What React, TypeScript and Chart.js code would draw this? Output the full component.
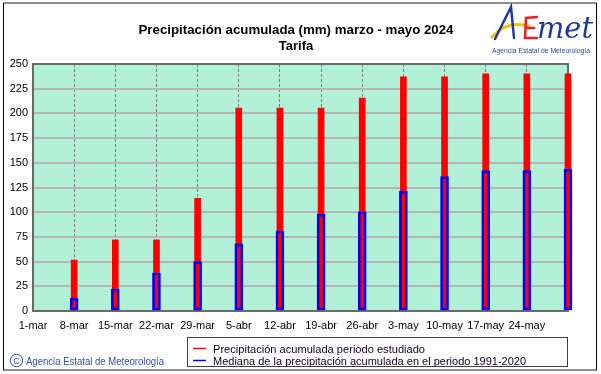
import React, { useEffect, useRef } from "react";
import { Chart, registerables } from "chart.js";

Chart.register(...registerables);

const TITLE = "Precipitación acumulada (mm) marzo - mayo 2024";
const SUBTITLE = "Tarifa";
const COPYRIGHT = "Agencia Estatal de Meteorología";
const LOGO_TEXT = "Agencia Estatal de Meteorología";

// x tick labels every 7 days starting 1-mar (day 0)
const tickLabels = [
  "1-mar", "8-mar", "15-mar", "22-mar", "29-mar", "5-abr", "12-abr",
  "19-abr", "26-abr", "3-may", "10-may", "17-may", "24-may",
];
// bar positions, in days since 1 March
const barDays = [7, 14, 21, 28, 35, 42, 49, 56, 63, 70, 77, 84, 91];
const seriesLabels = [
  "Precipitación acumulada periodo estudiado",
  "Mediana de la precipitación acumulada en el periodo 1991-2020",
];
const precipStudied = [51.5, 72, 72, 114, 205.5, 205.5, 205.5, 215.5, 237, 237, 240, 240, 240];
const precipMedian = [13, 22, 38.5, 50, 68, 81, 98, 100.5, 121, 136, 142, 142, 143.5];
const xMax = 91;
const xStep = 7;
const yMax = 250;
const yStep = 25;

const FONT = "Arial, 'Liberation Sans', sans-serif";

function fitText(ctx: CanvasRenderingContext2D, text: string, x: number, y: number, w: number, align: "left" | "center") {
  const m = ctx.measureText(text).width;
  const s = w / m;
  ctx.save();
  ctx.translate(x, y);
  ctx.scale(s, 1);
  ctx.textAlign = align;
  ctx.fillText(text, 0, 0);
  ctx.restore();
}

const decoPlugin = {
  id: "deco",
  beforeDraw(chart: any) {
    const { ctx, chartArea } = chart;
    ctx.save();
    ctx.fillStyle = "#ffffff";
    ctx.fillRect(0, 0, chart.width, chart.height);
    ctx.fillStyle = "#b2f0d8";
    ctx.fillRect(chartArea.left, chartArea.top, chartArea.right - chartArea.left, chartArea.bottom - chartArea.top);
    ctx.restore();
  },
  beforeDatasetsDraw(chart: any) {
    const { ctx, chartArea } = chart;
    ctx.save();
    ctx.strokeStyle = "#6a6a6a";
    ctx.lineWidth = 2;
    ctx.strokeRect(chartArea.left, chartArea.top, chartArea.right - chartArea.left, chartArea.bottom - chartArea.top);
    ctx.restore();
  },
  afterDraw(chart: any) {
    const { ctx } = chart;
    ctx.save();
    // outer frame
    ctx.fillStyle = "#8e8e8e";
    ctx.fillRect(3, 2, 594, 2);
    ctx.fillRect(3, 369, 594, 2);
    ctx.fillStyle = "#000000";
    ctx.fillRect(3, 3, 1, 367);
    ctx.fillRect(596, 3, 1, 367);

    // title
    ctx.fillStyle = "#000000";
    ctx.textBaseline = "alphabetic";
    ctx.font = `bold 13px ${FONT}`;
    fitText(ctx, TITLE, 296, 34, 315, "center");
    ctx.textAlign = "center";
    ctx.fillText(SUBTITLE, 296, 50);

    // legend box
    ctx.strokeStyle = "#404040";
    ctx.lineWidth = 1;
    ctx.strokeRect(187.5, 337.5, 380, 29);
    ctx.lineWidth = 1.5;
    ctx.strokeStyle = "#ff0000";
    ctx.beginPath();
    ctx.moveTo(193, 348.5);
    ctx.lineTo(206, 348.5);
    ctx.stroke();
    ctx.strokeStyle = "#0000ff";
    ctx.beginPath();
    ctx.moveTo(193, 360.5);
    ctx.lineTo(206, 360.5);
    ctx.stroke();
    ctx.fillStyle = "#100020";
    ctx.font = `11px ${FONT}`;
    fitText(ctx, seriesLabels[0], 213, 352.5, 212, "left");
    fitText(ctx, seriesLabels[1], 213, 364.5, 313, "left");

    // copyright
    ctx.fillStyle = "#3050b0";
    ctx.strokeStyle = "#3050b0";
    ctx.lineWidth = 1;
    ctx.beginPath();
    ctx.arc(16.5, 360.5, 6.2, 0, Math.PI * 2);
    ctx.stroke();
    ctx.font = `9px ${FONT}`;
    ctx.textAlign = "center";
    ctx.fillText("C", 16.5, 364);
    ctx.font = `11px ${FONT}`;
    fitText(ctx, COPYRIGHT, 26, 365, 138, "left");

    // logo
    ctx.lineCap = "round";
    ctx.strokeStyle = "#f2c400";
    ctx.lineWidth = 3;
    ctx.beginPath();
    ctx.moveTo(492, 37);
    ctx.quadraticCurveTo(506, 20, 529, 26);
    ctx.stroke();
    ctx.strokeStyle = "#1e3a9a";
    ctx.lineWidth = 2.5;
    ctx.beginPath();
    ctx.moveTo(495, 39);
    ctx.lineTo(511, 7);
    ctx.lineTo(514, 38);
    ctx.stroke();
    ctx.strokeStyle = "#e3202a";
    ctx.lineWidth = 2.5;
    ctx.beginPath();
    ctx.moveTo(537, 17);
    ctx.lineTo(526, 18);
    ctx.lineTo(525, 38);
    ctx.lineTo(537, 38);
    ctx.moveTo(526, 28);
    ctx.lineTo(534, 28);
    ctx.stroke();
    ctx.fillStyle = "#1e3a9a";
    ctx.font = `italic 30px 'DejaVu Serif', serif`;
    fitText(ctx, "met", 537, 38, 56, "left");
    ctx.fillStyle = "#2c4a9a";
    ctx.font = `7px ${FONT}`;
    fitText(ctx, LOGO_TEXT, 541, 53, 98, "center");
    ctx.restore();
  },
};

export default function App() {
  const ref = useRef<HTMLCanvasElement | null>(null);
  useEffect(() => {
    if (!ref.current) return;
    const chart = new Chart(ref.current, {
      type: "bar",
      data: {
        datasets: [
          {
            label: seriesLabels[0],
            data: barDays.map((d, i) => ({ x: d, y: precipStudied[i] })),
            backgroundColor: "#ff0000",
            borderWidth: 0,
            barThickness: 6,
            grouped: false,
            clip: false,
            order: 1,
          } as any,
          {
            label: seriesLabels[1],
            data: barDays.map((d, i) => ({ x: d, y: precipMedian[i] })),
            backgroundColor: "rgba(0,0,0,0)",
            borderColor: "#0000ff",
            borderWidth: 2,
            borderSkipped: false,
            barThickness: 8,
            grouped: false,
            clip: false,
            order: 0,
          } as any,
        ],
      },
      options: {
        responsive: false,
        animation: false,
        devicePixelRatio: 1,
        layout: { padding: { left: 0, top: 64, right: 33, bottom: 0 } },
        plugins: {
          legend: { display: false },
          title: { display: false },
          tooltip: { enabled: false },
        },
        scales: {
          x: {
            type: "linear",
            min: 0,
            max: xMax,
            offset: false,
            grid: { offset: false, color: "#7a7a7a", lineWidth: 1, drawTicks: false },
            border: { display: false, dash: [3, 2] },
            ticks: {
              stepSize: xStep,
              autoSkip: false,
              maxRotation: 0,
              color: "#000000",
              padding: 8,
              font: { family: FONT, size: 11 },
              callback: (v: any) => {
                const i = Math.round(Number(v) / xStep);
                return tickLabels[i] ?? "";
              },
            },
            afterFit: (s: any) => {
              s.height = 63;
            },
          },
          y: {
            min: 0,
            max: yMax,
            grid: { color: "#b6b4bc", lineWidth: 2, drawTicks: false },
            border: { display: false },
            ticks: {
              stepSize: yStep,
              color: "#000000",
              padding: 5,
              font: { family: FONT, size: 11 },
            },
            afterFit: (s: any) => {
              s.width = 33;
            },
          },
        },
      } as any,
      plugins: [decoPlugin],
    });
    return () => chart.destroy();
  }, []);
  return (
    <div style={{ position: "absolute", left: 0, top: 0, width: 601, height: 374 }}>
      <canvas ref={ref} width={601} height={374} style={{ display: "block" }} />
    </div>
  );
}
